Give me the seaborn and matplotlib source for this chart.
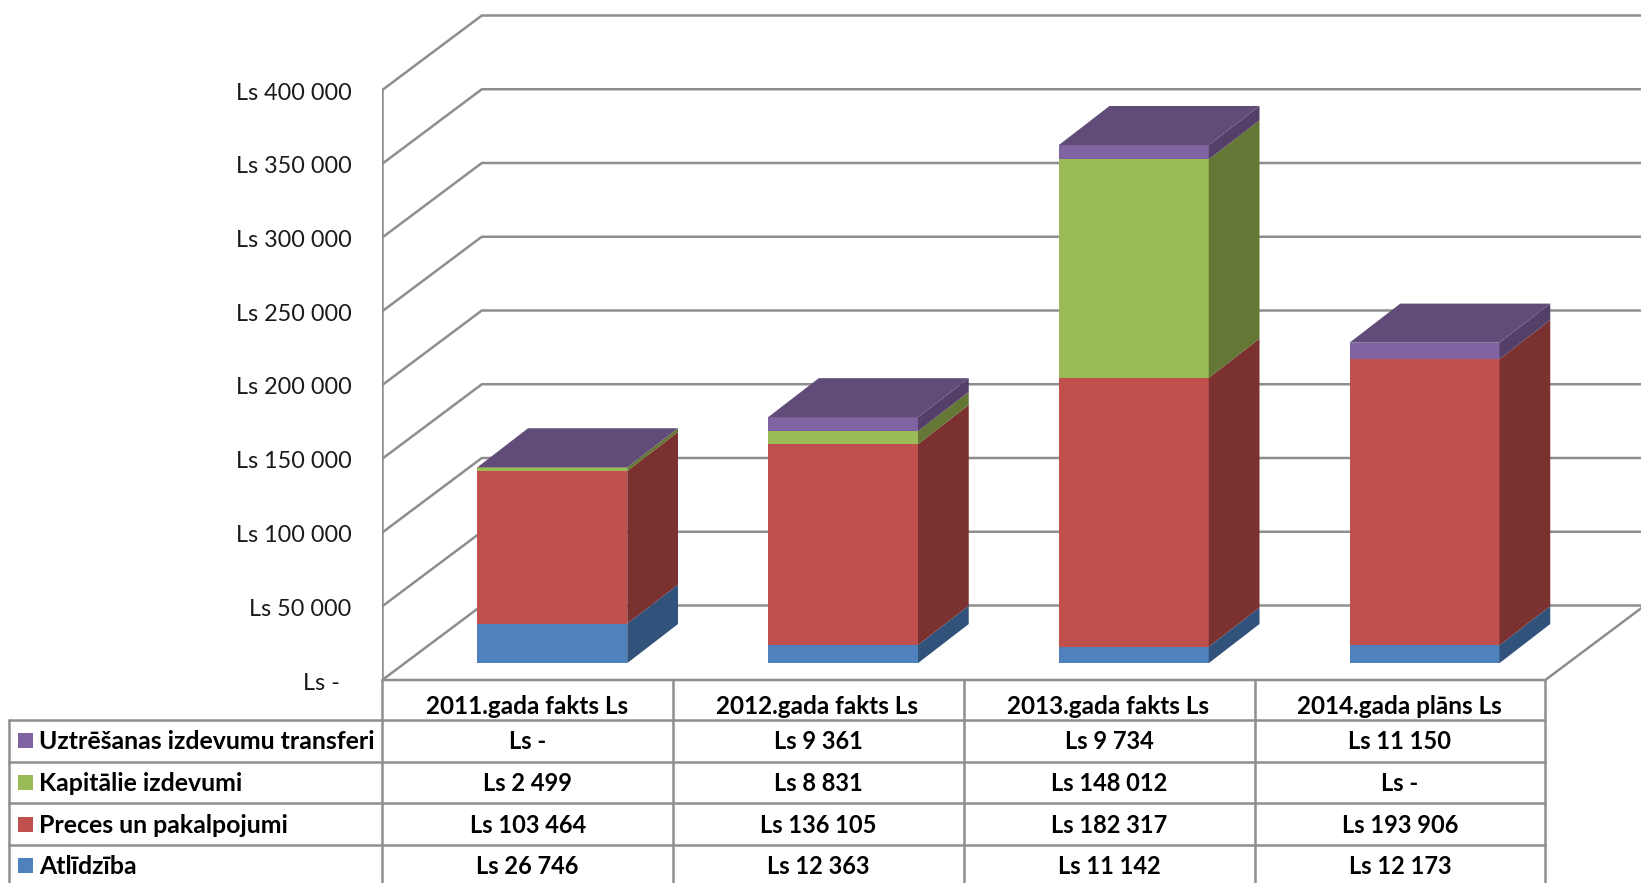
import numpy as np
import pandas as pd
import seaborn as sns
import matplotlib
matplotlib.use('Agg')
import matplotlib.pyplot as plt
from matplotlib.transforms import ScaledTranslation

gadi = ['2011.gada fakts Ls', '2012.gada fakts Ls', '2013.gada fakts Ls', '2014.gada plāns Ls']
atlidziba = [26746, 12363, 11142, 12173]
preces = [103464, 136105, 182317, 193906]
kapitalie = [2499, 8831, 148012, 0]
transferi = [0, 9361, 9734, 11150]
y_ticks = [0, 50000, 100000, 150000, 200000, 250000, 300000, 350000, 400000]

# no apakšas uz augšu
nosaukumi = ['Atlīdzība', 'Preces un pakalpojumi', 'Kapitālie izdevumi', 'Uztrēšanas izdevumu transferi']
rindas = [atlidziba, preces, kapitalie, transferi]
krasas = ['#4F81BD', '#C0504D', '#9BBB59', '#8064A2']
sanu_krasas = ['#31527B', '#7B3130', '#657735', '#543F68']
virsa_krasa = '#614C79'
linija = '#8E8E8E'


def fmt(v):
    if v == 0:
        return 'Ls -'
    return 'Ls ' + f'{v:,}'.replace(',', ' ')


W, H = 1641, 883
sns.set_theme(style='white')
plt.rcParams['font.family'] = ['Lato', 'DejaVu Sans']

fig = plt.figure(figsize=(W / 100, H / 100), dpi=100)
x0 = 382.3
ax = fig.add_axes([x0 / W, 1 - 680 / H, (W - x0) / W, 680 / H])

cat_px = 290.75
val_px = 590 / 400000
# viens dziļuma solis kategoriju un vērtību mērogā
dx = 99.5 / cat_px
dy = 74.5 / val_px
d0 = 0.24     # stabiņa priekšpuse
d1x = 0.51    # stabiņa dziļums
d1y = 0.525
bar_w = 150 / cat_px

x_pos = np.arange(len(gadi)) + d0 * dx + 0.7 / cat_px
base = d0 * dy - 1 / val_px
bottom = np.zeros(len(gadi))

for vals, c, sc in zip(rindas, krasas, sanu_krasas):
    df = pd.DataFrame({'x': x_pos, 'v': vals})
    sns.barplot(data=df, x='x', y='v', native_scale=True, width=bar_w, color=c,
                saturation=1, bottom=bottom + base, linewidth=0, errorbar=None,
                ax=ax, zorder=3)
    for xp, b, v in zip(x_pos, bottom, vals):
        xr = xp + bar_w / 2
        ax.fill([xr, xr, xr + d1x * dx, xr + d1x * dx],
                [b + base, b + v + base, b + v + base + d1y * dy, b + base + d1y * dy],
                color=sc, lw=0, zorder=3)
    bottom = bottom + np.array(vals)

# virspuse
for xp, t in zip(x_pos, bottom):
    xl, xr = xp - bar_w / 2, xp + bar_w / 2
    yt = t + base
    ax.fill([xl, xr, xr + d1x * dx, xl + d1x * dx],
            [yt, yt, yt + d1y * dy, yt + d1y * dy], color=virsa_krasa, lw=0, zorder=4)

x_left = -0.5
x_right = 3.5
ax.set_xlim(x_left, x_left + (W - x0) / cat_px)
ax.set_ylim(0, 680 / val_px)

# režģis: sānu siena un aizmugures siena
for t in y_ticks:
    ax.plot([x_left, x_left + dx, x_right + dx * 1.2], [t, t + dy, t + dy],
            color=linija, lw=1.8, zorder=1, clip_on=True, solid_capstyle='butt')
ax.plot([x_left, x_right, x_right + dx], [0, 0, dy], color=linija, lw=1.8, zorder=2,
        clip_on=False)
ax.plot([x_left, x_left], [0, y_ticks[-1]], color=linija, lw=1.8, zorder=2)

sns.despine(ax=ax, left=True, bottom=True)
ax.set_xticks([])
ax.set_xlabel('')
ax.set_ylabel('')
ax.set_yticks(y_ticks)
ax.set_yticklabels([fmt(t) + ('  ' if t == 0 else '') for t in y_ticks], fontsize=16.8, color='#1a1a1a')
ax.tick_params(axis='y', length=0, pad=22)
# etiķetes par 1 px zemāk
nobide = ScaledTranslation(0, -1 / 100, fig.dpi_scale_trans)
for lab in ax.get_yticklabels():
    lab.set_transform(lab.get_transform() + nobide)
ax.patch.set_alpha(0)

# tabula zem diagrammas, pikseļos
tb = fig.add_axes([0, 0, 1, 1], zorder=5)
tb.set_xlim(0, W)
tb.set_ylim(H, 0)
tb.axis('off')

col_x = [x0 + i * cat_px for i in range(len(gadi) + 1)]
row_y = [720, 762, 803, 845]
for y in row_y:
    tb.plot([9, col_x[-1]], [y, y], color=linija, lw=1.8)
for i, x in enumerate(col_x):
    tb.plot([x, x], [680, H], color=linija, lw=1.8)
tb.plot([9, 9], [720, H], color=linija, lw=1.8)

fs = 17
for i, g in enumerate(gadi):
    tb.text((col_x[i] + col_x[i + 1]) / 2 - 1, 714, g, ha='center', va='baseline',
            fontsize=17.5, fontweight='bold', color='black')

baselines = [874, 833, 791, 749]
for nos, vals, c, yb in zip(nosaukumi, rindas, krasas, baselines):
    tb.fill([18, 33, 33, 18], [yb - 16, yb - 16, yb - 1, yb - 1], color=c, lw=0)
    tb.text(39, yb, nos, ha='left', va='baseline', fontsize=17.95, fontweight='bold', color='black')
    for i, v in enumerate(vals):
        tb.text((col_x[i] + col_x[i + 1]) / 2, yb, fmt(v), ha='center', va='baseline',
                fontsize=fs, fontweight='bold', color='black')

fig.savefig('out.png', dpi=100)
